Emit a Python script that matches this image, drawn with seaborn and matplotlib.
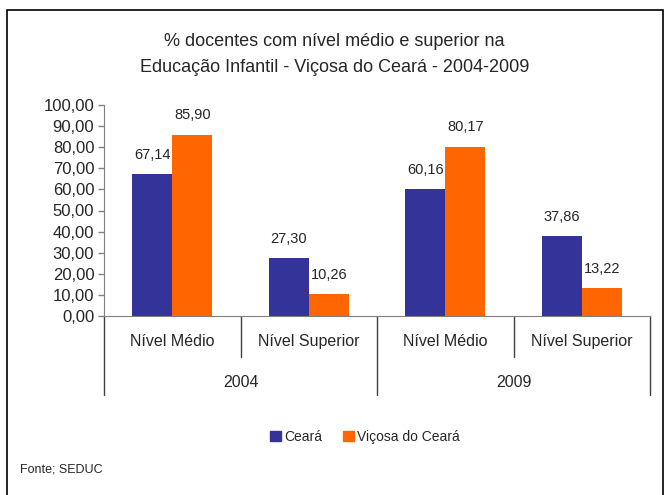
import pandas as pd
import matplotlib.pyplot as plt
import seaborn as sns
from matplotlib.patches import Rectangle

# dados
anos = ['2004', '2009']
niveis = ['Nível Médio', 'Nível Superior']
categorias = ['2004 Nível Médio', '2004 Nível Superior', '2009 Nível Médio', '2009 Nível Superior']
ceara = [67.14, 27.30, 60.16, 37.86]
vicosa = [85.90, 10.26, 80.17, 13.22]
series = ['Ceará', 'Viçosa do Ceará']
cores = ['#333399', '#FF6600']

df = pd.DataFrame({
    'categoria': categorias * 2,
    'valor': ceara + vicosa,
    'serie': [series[0]] * 4 + [series[1]] * 4,
})

sns.set_style('white')
plt.rcParams['font.family'] = ['Liberation Sans', 'DejaVu Sans']

fig = plt.figure(figsize=(6.69, 4.95), dpi=100)
ax = fig.add_axes([104 / 669, 1 - 316 / 495, (650 - 104) / 669, (316 - 105) / 495])

sns.barplot(data=df, x='categoria', y='valor', hue='serie', palette=cores,
            width=0.586, saturation=1, linewidth=0, ax=ax, legend=False)

ax.set_ylim(0, 100)
ax.set_xlim(-0.5, 3.5)
ax.set_yticks(range(0, 101, 10))
ax.set_yticklabels([f'{v:.2f}'.replace('.', ',') for v in range(0, 101, 10)], fontsize=12)
ax.set_xticks([])
ax.set_xlabel('')
ax.set_ylabel('')
ax.tick_params(axis='y', left=True, length=4, width=1, color='#808080', pad=3)
for s in ['top', 'right']:
    ax.spines[s].set_visible(False)
ax.spines['left'].set_color('#808080')
ax.spines['bottom'].set_color('#808080')

for c in ax.containers:
    ax.bar_label(c, fmt=lambda v: f'{v:.2f}'.replace('.', ','), padding=9, fontsize=10.5)

# rótulos em dois níveis
tr = ax.get_xaxis_transform()
for x in [0.5, 2.5]:
    ax.plot([x, x], [0, -0.194], color='#404040', lw=1, transform=tr, clip_on=False)
for x in [-0.5, 1.5, 3.5]:
    ax.plot([x, x], [0, -0.374], color='#404040', lw=1, transform=tr, clip_on=False)
for i, cat in enumerate(categorias):
    ax.text(i, -0.123, niveis[i % 2], transform=tr, ha='center', va='center', fontsize=11.5)
for j, ano in enumerate(anos):
    ax.text(0.5 + 2 * j, -0.313, ano, transform=tr, ha='center', va='center', fontsize=11.5)

fig.text(0.5, 1 - 42 / 495, '% docentes com nível médio e superior na', ha='center', va='center', fontsize=13)
fig.text(0.5, 1 - 68 / 495, 'Educação Infantil - Viçosa do Ceará - 2004-2009', ha='center', va='center', fontsize=13)

handles = [Rectangle((0, 0), 1, 1, color=c) for c in cores]
fig.legend(handles, series, loc='center', bbox_to_anchor=(365 / 669, 1 - 437 / 495), ncol=2,
           frameon=False, fontsize=10, handlelength=0.8, handleheight=0.8, handletextpad=0.2,
           columnspacing=1.5)

fig.text(20 / 669, 1 - 470 / 495, 'Fonte; SEDUC', ha='left', va='center', fontsize=9)

fig.patches.append(Rectangle((7 / 669, -0.05), (663 - 7) / 669, 1 - 10 / 495 + 0.05,
                             transform=fig.transFigure, fill=False, edgecolor='black', lw=1.2))

fig.savefig('out.png', dpi=100)
